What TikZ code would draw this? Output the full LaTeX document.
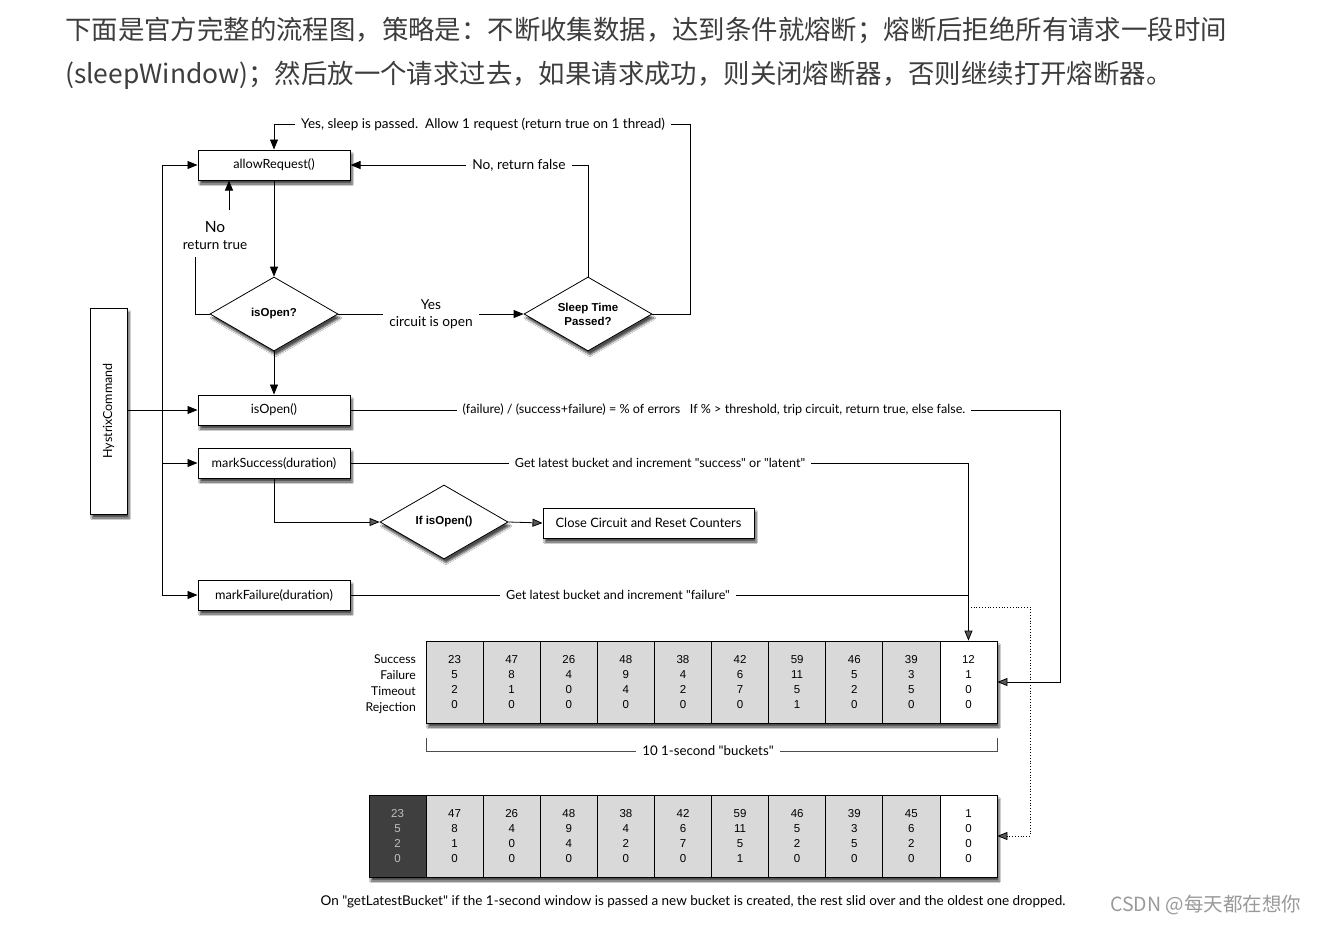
\documentclass[tikz,border=0pt]{standalone}
\usepackage{fontspec}
\newfontfamily\cjk{Noto Sans CJK SC}
\newfontfamily\dfont{Lato}
\newfontfamily\helv{Liberation Sans}
\usetikzlibrary{shapes.geometric,arrows.meta,shadows.blur,calc}
\definecolor{hdr}{HTML}{3D3D3D}
\definecolor{cellgray}{HTML}{D9D9D9}
\definecolor{celldark}{HTML}{3F3F3F}
\definecolor{wm}{HTML}{9A9A9A}
\newcommand{\fsz}[1]{\fontsize{#1}{#1}\selectfont}
\begin{document}
\begin{tikzpicture}[x=1pt,y=-1pt,
  every node/.style={font=\dfont\fontsize{12.7}{15}\selectfont},
  shad/.style={blur shadow={shadow xshift=2pt,shadow yshift=-4pt,shadow blur steps=6,shadow opacity=70}},
  fbox/.style={draw,line width=1pt,fill=white,minimum width=152pt,minimum height=30pt,inner sep=0pt,shad},
  dia/.style={diamond,aspect=1.73,draw,line width=0.8pt,fill=white,minimum width=128pt,minimum height=74pt,inner sep=0pt,shad,font=\helv\bfseries\fontsize{11.5}{14}\selectfont,align=center},
  ln/.style={line width=0.8pt},
  arr/.style={ln,-{Triangle[length=10pt,width=8pt]}},
  lbl/.style={fill=white,inner xsep=6pt,inner ysep=1pt},
  cell/.style={draw,line width=0.8pt,minimum width=57.1pt,minimum height=82pt,inner sep=0pt,align=center,font=\helv\fontsize{11.5}{15}\selectfont}
]
\useasboundingbox[fill=white] (0,0) rectangle (1317,924);

% header
\node[anchor=west,inner sep=0pt,text=hdr,font=\cjk\fontsize{26.4}{30}\selectfont] (h1) at (65,30) {下面是官方完整的流程图，策略是：不断收集数据，达到条件就熔断；熔断后拒绝所有请求一段时间};
\node[anchor=west,inner sep=0pt,text=hdr,font=\cjk\fontsize{26.4}{30}\selectfont] (h2) at (65,75) {(sleepWindow)；然后放一个请求过去，如果请求成功，则关闭熔断器，否则继续打开熔断器。};

% boxes
\node[fbox] (allow) at (274,165) {allowRequest()};
\node[dia] (isopen) at (274,314) {isOpen?};
\node[dia] (sleep) at (588,314) {Sleep Time\\Passed?};
\node[fbox] (iso) at (274,410) {isOpen()};
\node[fbox] (ms) at (274,463) {markSuccess(duration)};
\node[dia] (ifo) at (444,522) {If isOpen()};
\node[fbox,minimum width=211pt,font=\dfont\fsz{12.9}] (close) at (648.5,523) {Close Circuit and Reset Counters};
\node[fbox] (mf) at (274,595) {markFailure(duration)};
\node[draw,line width=1pt,fill=white,minimum width=37pt,minimum height=206pt,inner sep=0pt,shad,font=\dfont\fsz{12.5}] (hc) at (108.5,411) {\rotatebox{90}{HystrixCommand}};

% bus
\coordinate (bt) at (162,165);
\coordinate (bb) at (162,595);
\draw[ln] (bt) -- (bb);
\draw[arr] (bt) -- (allow.west);
\draw[arr] (bb) -- (mf.west);
\draw[arr] (ms.west -| bt) -- (ms.west);
\draw[arr] (hc.east |- iso.west) -- (iso.west);

% top loops
\draw[arr] (sleep.east) -| (690,124) -| (allow.north);
\node[lbl,font=\dfont\fsz{13.5}] (l1) at (483,124) {Yes, sleep is passed.\ \ Allow 1 request (return true on 1 thread)};
\draw[arr] (sleep.north) |- (allow.east);
\node[lbl,font=\dfont\fsz{13.7}] (l2) at (519,165) {No, return false};
\draw[arr] (allow.south) -- (isopen.north);
\draw[ln] (isopen.west) -| (195,257);
\node[align=center,inner sep=0pt,font=\dfont\fontsize{13.5}{17}\selectfont] (nrt) at (215,235) {{\fontsize{15.5}{17}\selectfont No}\\return true};
\coordinate (nra) at (229,210);
\draw[arr] (nra) -- (nra |- allow.south);
\draw[arr] (isopen.east) -- (sleep.west);
\node[lbl,align=center,font=\dfont\fontsize{13.7}{17}\selectfont] (l3) at (431,314) {Yes\\circuit is open};
\draw[arr] (isopen.south) -- (iso.north);

% buckets top
\path[fill=white,shad] (426,641) rectangle (997,723);
\foreach \i/\a/\b/\c/\d in {1/23/5/2/0,2/47/8/1/0,3/26/4/0/0,4/48/9/4/0,5/38/4/2/0,6/42/6/7/0,7/59/11/5/1,8/46/5/2/0,9/39/3/5/0}
  \node[cell,fill=cellgray] (t\i) at ({426+(\i-0.5)*57.1},682) {\a\\\b\\\c\\\d};
\node[cell,fill=white] (t10) at ({426+9.5*57.1},682) {12\\1\\0\\0};
\draw[line width=1pt] (426,641) rectangle (997,723);
\node[anchor=east,align=right,inner sep=0pt,font=\dfont\fontsize{12.2}{16}\selectfont] (rl) at (416,684) {Success\\Failure\\Timeout\\Rejection};

% bracket
\draw[line width=0.6pt,black!70] (426,738) -- (426,751) -- (997,751) -- (997,738);
\node[lbl,font=\dfont\fsz{13.3}] (br) at (708,751) {10 1-second "buckets"};

% buckets bottom
\path[fill=white,shad] (369,795) rectangle (997,877);
\node[cell,fill=celldark,text=black!25] (b1) at ({369+0.5*57.09},836) {23\\5\\2\\0};
\foreach \i/\a/\b/\c/\d in {2/47/8/1/0,3/26/4/0/0,4/48/9/4/0,5/38/4/2/0,6/42/6/7/0,7/59/11/5/1,8/46/5/2/0,9/39/3/5/0,10/45/6/2/0}
  \node[cell,fill=cellgray] (b\i) at ({369+(\i-0.5)*57.09},836) {\a\\\b\\\c\\\d};
\node[cell,fill=white] (b11) at ({369+10.5*57.09},836) {1\\0\\0\\0};
\draw[line width=1pt] (369,795) rectangle (997,877);

% right side connectors
\draw[arr] (iso.east) -- (1060,410) |- (t10.east);
\node[lbl,font=\dfont\fsz{12.6}] (l4) at (714,410) {(failure) / (success+failure) = \% of errors\ \ \ If \% > threshold, trip circuit, return true, else false.};
\draw[arr] (ms.east) -| (t10.north);
\node[lbl,font=\dfont\fsz{12.6}] (l5) at (660,463) {Get latest bucket and increment "success" or "latent"};
\draw[ln] (mf.east) -- (mf.east -| t10.north);
\node[lbl,font=\dfont\fsz{12.6}] (l6) at (618,595) {Get latest bucket and increment "failure"};
\draw[arr] (ms.south) |- (ifo.west);
\draw[arr] (ifo.east) -- (close.west);
\coordinate (dp) at (968,607);
\draw[ln,dotted,-{Triangle[length=10pt,width=8pt]}] (dp) -| (1030,836) -- (b11.east);

% caption
\node[font=\dfont\fsz{13.5}] (cap) at (693,902) {On "getLatestBucket" if the 1-second window is passed a new bucket is created, the rest slid over and the oldest one dropped.};
\node[anchor=west,inner sep=0pt,text=wm,font=\cjk\fontsize{19.5}{22}\selectfont] (wmk) at (1110,905) {CSDN @每天都在想你};
\end{tikzpicture}
\end{document}
